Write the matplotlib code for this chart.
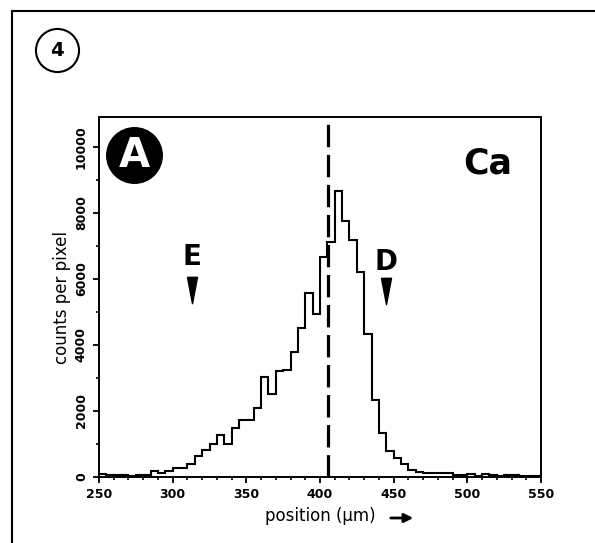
import matplotlib
matplotlib.use('Agg')
import matplotlib.pyplot as plt
from matplotlib.lines import Line2D
from matplotlib.ticker import MultipleLocator
import numpy as np

# histogram of Ca counts, 5 um bins from 250 to 550 um
bin_edges = np.arange(250, 555, 5)
counts = [80, 60, 50, 70, 40, 70, 60, 170, 120, 180,
          260, 280, 400, 640, 830, 990, 1280, 990, 1480, 1740,
          1740, 2080, 3020, 2500, 3200, 3240, 3780, 4500, 5560, 4950,
          6670, 7120, 8660, 7760, 7170, 6210, 4330, 2320, 1340, 780,
          585, 405, 200, 150, 130, 120, 120, 120, 70, 60,
          100, 40, 80, 50, 40, 60, 60, 40, 40, 30]

boundary_x = 405.6
marker_labels = ['E', 'D']
marker_x = [312.8, 444.6]
marker_label_y = [6650, 6500]
marker_tip_y = [5660, 5640]

xlabel = 'position (µm)'
ylabel = 'counts per pixel'
element = 'Ca'
panel = 'A'
figure_no = '4'

W, H = 595, 543
fig = plt.figure(figsize=(W / 100, H / 100), dpi=100)
ax = fig.add_axes([99 / W, 66 / H, 442 / W, 360 / H])

ax.stairs(counts, bin_edges, color='black', lw=1.5)
ax.axvline(boundary_x, color='black', lw=2.3, dashes=(7, 2.4))

# triangle pointers with letters
tri = [(-0.38, 1), (0.38, 1), (0, -1), (-0.38, 1)]
for lab, x, ly, ty in zip(marker_labels, marker_x, marker_label_y, marker_tip_y):
  ax.plot([x], [ty], marker=tri, ms=19, color='black', ls='none')
  ax.text(x, ly, lab, ha='center', va='center', fontsize=20, fontweight='bold')

ax.plot([0.079], [0.894], 'o', ms=40, color='black', transform=ax.transAxes, clip_on=False)
ax.text(0.079, 0.893, panel, transform=ax.transAxes, ha='center', va='center',
        color='white', fontsize=29, fontweight='bold')
ax.text(0.88, 0.872, element, transform=ax.transAxes, ha='center', va='center',
        fontsize=25, fontweight='bold')

ax.set_xlim(250, 550)
ax.set_ylim(0, 10900)
ax.xaxis.set_major_locator(MultipleLocator(50))
ax.xaxis.set_minor_locator(MultipleLocator(10))
ax.yaxis.set_major_locator(MultipleLocator(2000))
ax.yaxis.set_minor_locator(MultipleLocator(1000))
ax.tick_params(which='major', direction='out', length=4, width=1.3, labelsize=9, pad=4)
ax.tick_params(which='minor', direction='out', length=2.5, width=1.2)
ax.tick_params(axis='y', labelrotation=90)
for lbl in ax.get_yticklabels():
  lbl.set_va('center')
for lbl in ax.get_xticklabels() + ax.get_yticklabels():
  lbl.set_fontweight('bold')
for s in ax.spines.values():
  s.set_linewidth(1.4)

ax.set_xlabel(xlabel, fontsize=12, labelpad=4)
ax.set_ylabel(ylabel, fontsize=12, labelpad=3)
ax.annotate('', xy=(416 / W, 1 - 518 / H), xytext=(388 / W, 1 - 518 / H),
            xycoords='figure fraction',
            arrowprops=dict(arrowstyle='-|>', lw=2, color='black', mutation_scale=13))

# outer panel frame and figure number
fig.add_artist(Line2D([12 / W, 1], [1 - 11 / H] * 2, color='black', lw=1.5,
                      transform=fig.transFigure))
fig.add_artist(Line2D([12 / W] * 2, [0, 1 - 11 / H], color='black', lw=1.5,
                      transform=fig.transFigure))
fig.add_artist(Line2D([57 / W], [1 - 50 / H], marker='o', ms=31, mfc='none', mec='black',
                      mew=1.5, transform=fig.transFigure))
fig.text(57 / W, 1 - 50 / H, figure_no, ha='center', va='center', fontsize=14, fontweight='bold')

plt.savefig('out.png', dpi=100)
